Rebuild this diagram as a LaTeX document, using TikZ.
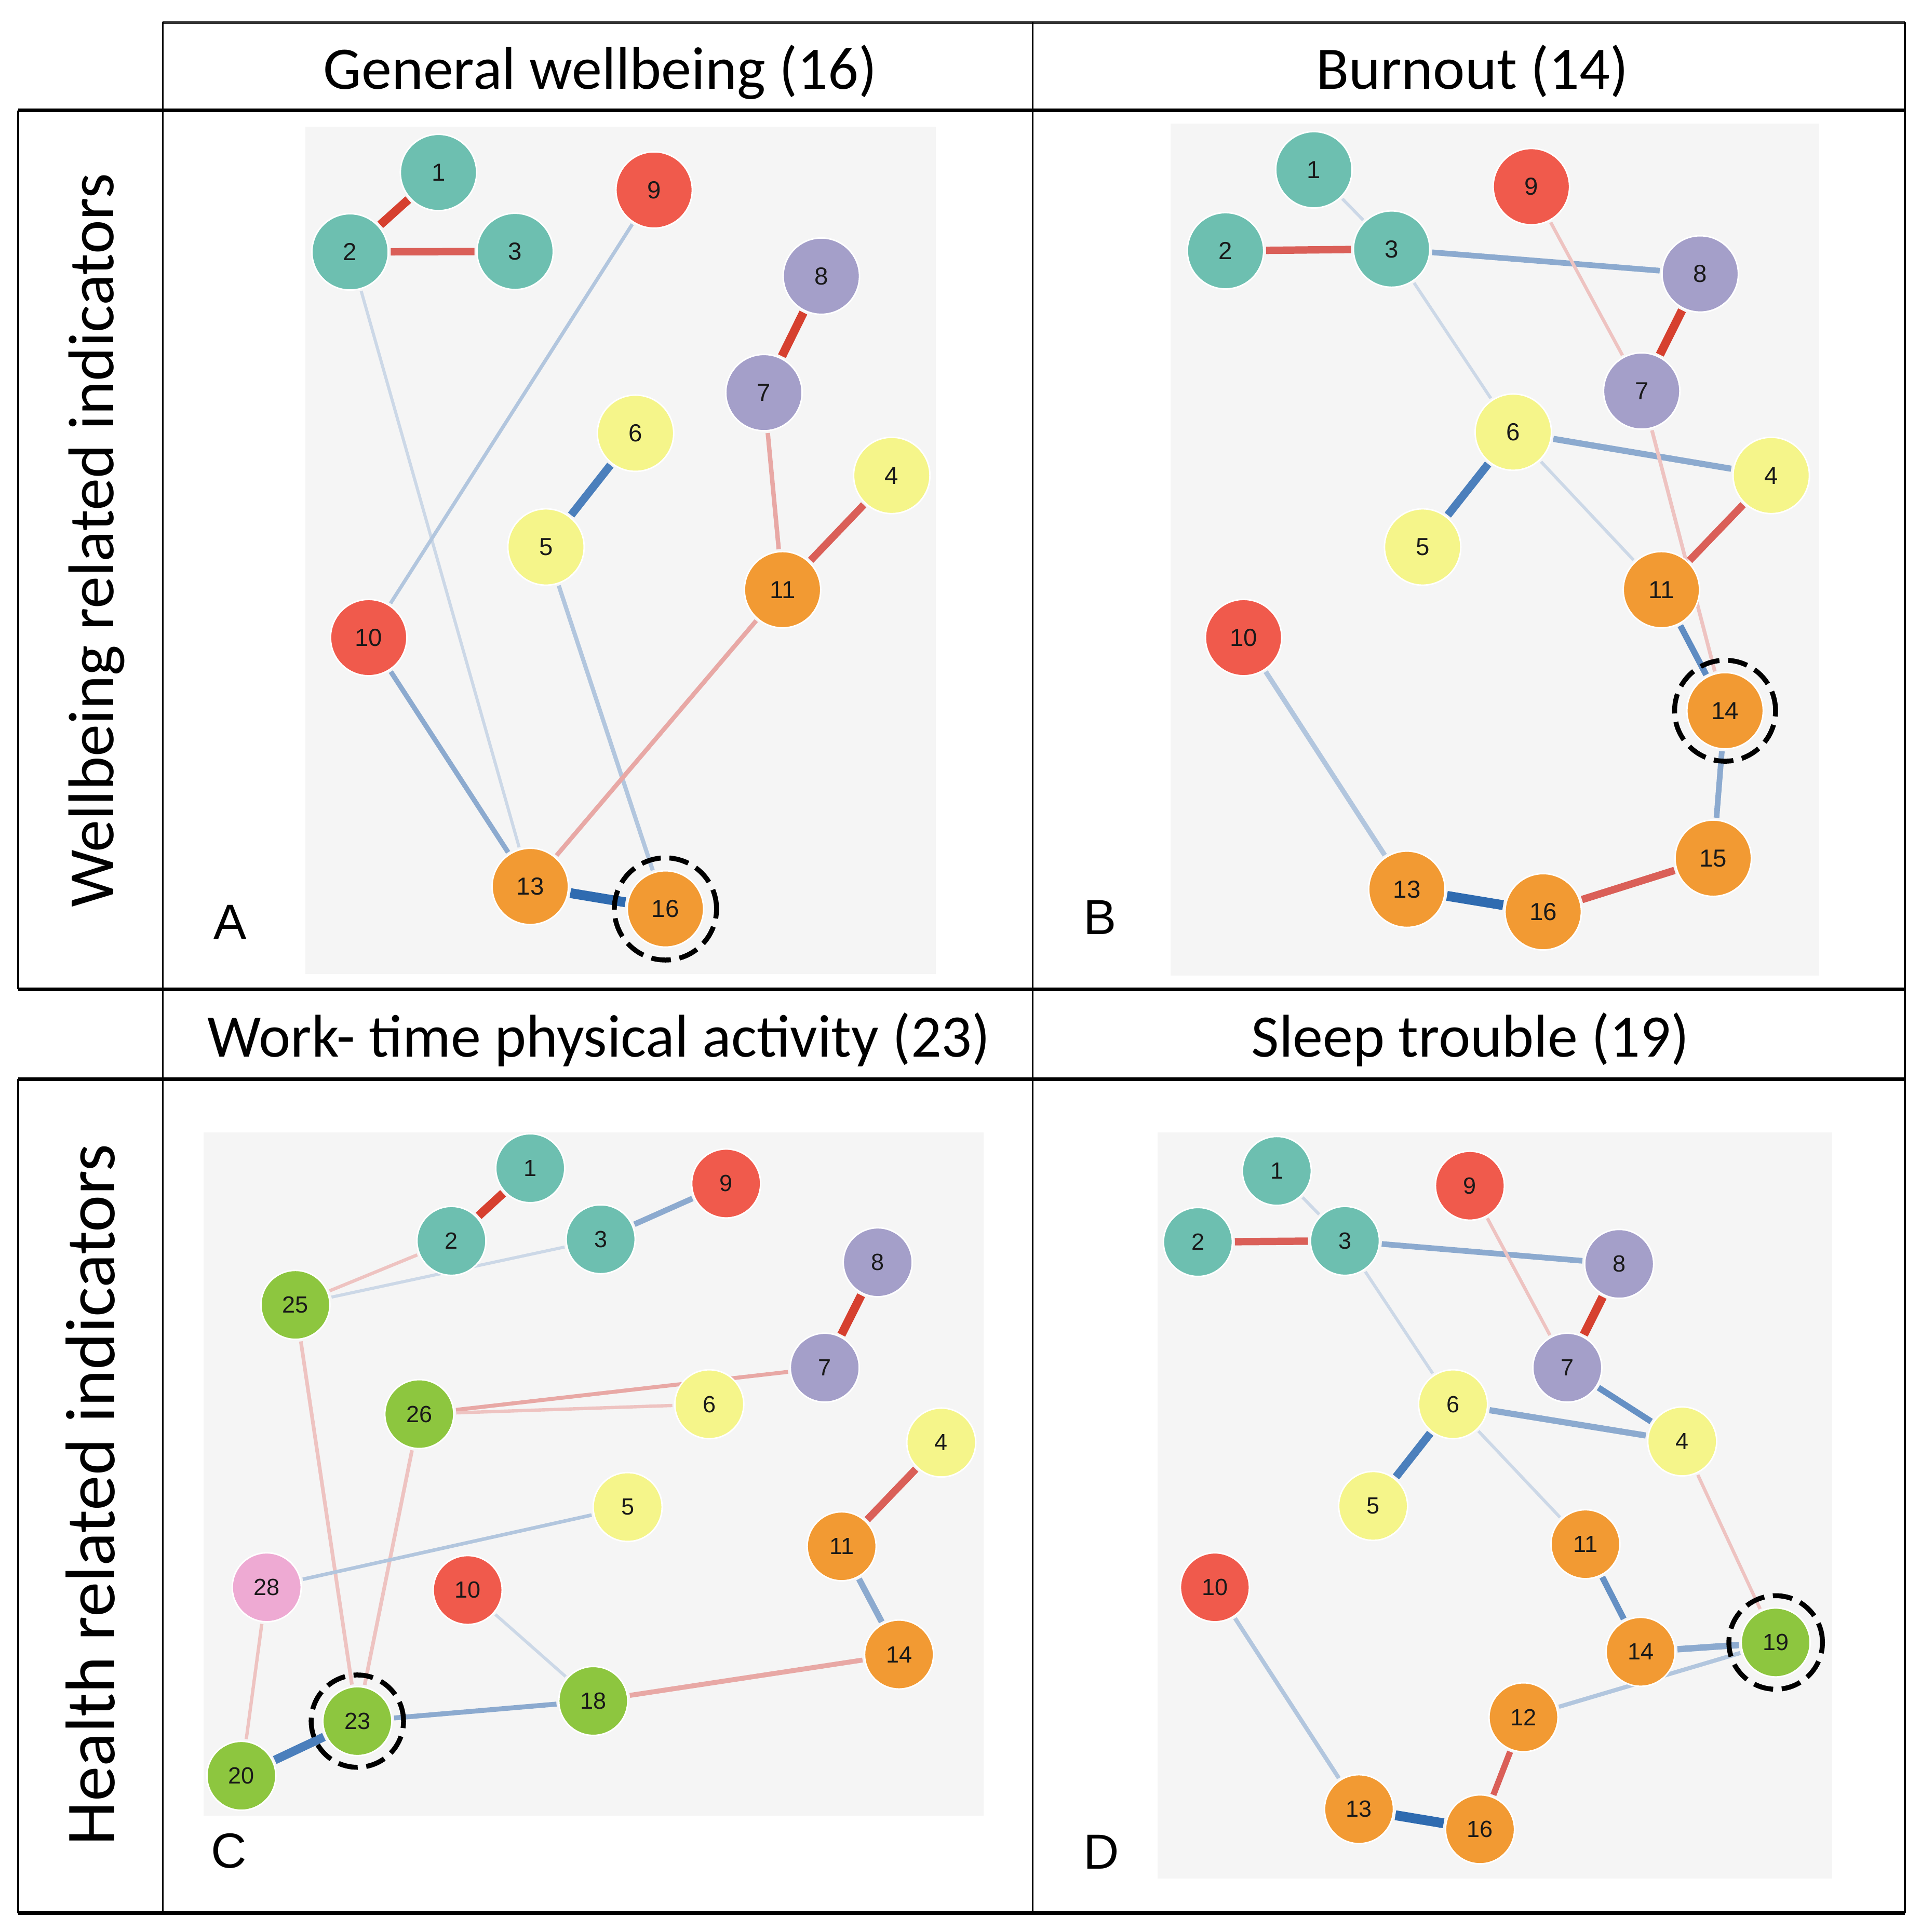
\documentclass[tikz,border=0pt]{standalone}
\usepackage{fontspec}
\setmainfont{Carlito}
\newfontfamily\numfont{Liberation Sans}
\pgfdeclarelayer{bglayer}
\pgfdeclarelayer{edgelayer}
\pgfsetlayers{bglayer,edgelayer,main}
\definecolor{cteal}{HTML}{6DBFB0}
\definecolor{cred}{HTML}{F05A4C}
\definecolor{cpurple}{HTML}{A49FC9}
\definecolor{cyellow}{HTML}{F5F58A}
\definecolor{corange}{HTML}{F29A33}
\definecolor{cgreen}{HTML}{8DC63F}
\definecolor{cpink}{HTML}{EEAAD3}
\definecolor{cbg}{HTML}{F5F5F5}
\definecolor{eA}{HTML}{D6402F}
\definecolor{eB}{HTML}{DA5F58}
\definecolor{eC}{HTML}{E8A8A5}
\definecolor{eD}{HTML}{EEC3C1}
\definecolor{bA}{HTML}{2F6BB0}
\definecolor{bB}{HTML}{4B7FBC}
\definecolor{bC}{HTML}{8CAACF}
\definecolor{bD}{HTML}{B2C6DE}
\definecolor{bE}{HTML}{CCD8E7}
\tikzset{
  nd/.style={circle, inner sep=0pt, outer sep=2pt, draw=white, line width=1.2pt, text=black!90},
  ndL/.style={nd, minimum size=62pt, font=\numfont\fontsize{20}{22}\selectfont},
  ndS/.style={nd, minimum size=56pt, font=\numfont\fontsize{19}{21}\selectfont},
  hl/.style={circle, draw=black, line width=4pt, dash pattern=on 16pt off 7pt, fill=none, inner sep=0pt},
  sr/.style={draw=eA, line width=7pt},
  mr/.style={draw=eB, line width=6pt},
  lr/.style={draw=eC, line width=3.6pt},
  fr/.style={draw=eD, line width=2.7pt},
  sb/.style={draw=bA, line width=8pt},
  mb/.style={draw=bB, line width=6.5pt},
  cb/.style={draw=bC, line width=4.6pt},
  lb/.style={draw=bD, line width=3.4pt},
  fb/.style={draw=bE, line width=2.5pt},
  tline/.style={draw=black, line width=2.8pt},
  vline/.style={draw=black, line width=1.6pt},
  ttl/.style={anchor=base, font=\fontsize{49}{58}\selectfont},
  plab/.style={anchor=base, font=\numfont\fontsize{40}{46}\selectfont},
}
\begin{document}
\begin{tikzpicture}[x=1pt,y=-1pt]
\useasboundingbox (0,0) rectangle (1560,1569.3);
% ---- backgrounds ----
\begin{pgfonlayer}{bglayer}
\fill[white] (0,0) rectangle (1560,1569.3);
\fill[cbg] (248,103) rectangle (760,791);
\fill[cbg] (950.5,100.4) rectangle (1477.5,792.5);
\fill[cbg] (165.4,920) rectangle (798.7,1474.8);
\fill[cbg] (939.9,920) rectangle (1487.8,1525.9);
\end{pgfonlayer}
% ---- table ----
\draw[draw=black!80, line width=2pt] (132.2,18.3) -- (1547,18.3);
\draw[tline] (14.8,89.7) -- (1547,89.7);
\draw[tline] (14.8,803.5) -- (1547,803.5);
\draw[tline] (14.8,876.5) -- (1547,876.5);
\draw[tline] (14.8,1554) -- (1547,1554);
\draw[vline] (132.2,18.3) -- (132.2,1554);
\draw[vline] (838.6,18.3) -- (838.6,1554);
\draw[vline] (1547,18.3) -- (1547,1554);
\draw[vline] (14.8,89.7) -- (14.8,803.5);
\draw[vline] (14.8,876.5) -- (14.8,1554);
% ---- titles ----
\node[ttl] (tA) at (487.4,72.4) {General wellbeing (16)};
\node[ttl] (tB) at (1195.6,72.4) {Burnout (14)};
\node[ttl] (tC) at (486.5,858.3) {Work- time physical activity (23)};
\node[ttl] (tD) at (1194,858.3) {Sleep trouble (19)};
\node[anchor=base, rotate=90, font=\fontsize{52.5}{60}\selectfont] (rW) at (92,439) {Wellbeing related indicators};
\node[anchor=base, rotate=90, font=\fontsize{57}{64}\selectfont] (rH) at (92.8,1214.2) {Health related indicators};
% ---- panel letters ----
\node[plab] (LA) at (187,762.5) {A};
\node[plab] (LB) at (893.3,758.9) {B};
\node[plab] (LC) at (186,1517) {C};
\node[plab] (LD) at (894.2,1517.9) {D};
% ================= Panel A =================
\node[ndL, fill=cteal] (a1) at (356.1,140.1) {1};
\node[ndL, fill=cteal] (a2) at (284.3,204.6) {2};
\node[ndL, fill=cteal] (a3) at (418.3,204.2) {3};
\node[ndL, fill=cred] (a9) at (531.2,154.3) {9};
\node[ndL, fill=cpurple] (a8) at (667.0,224.3) {8};
\node[ndL, fill=cpurple] (a7) at (620.4,318.9) {7};
\node[ndL, fill=cyellow] (a6) at (516.1,351.9) {6};
\node[ndL, fill=cyellow] (a4) at (724.2,386.2) {4};
\node[ndL, fill=cyellow] (a5) at (443.4,444.3) {5};
\node[ndL, fill=corange] (a11) at (635.5,479) {11};
\node[ndL, fill=cred] (a10) at (299.4,517.9) {10};
\node[ndL, fill=corange] (a13) at (430.6,720) {13};
\node[ndL, fill=corange] (a16) at (540.4,738.3) {16};
\node[hl, minimum size=83pt] (a16h) at (a16.center) {};
\begin{pgfonlayer}{edgelayer}
\draw[sr] (a1) -- (a2);
\draw[mr] (a2) -- (a3);
\draw[fb] (a2) -- (a13);
\draw[lb, line width=2.9pt] (a9) -- (a10);
\draw[sr] (a8) -- (a7);
\draw[lr] (a7) -- (a11);
\draw[mr] (a4) -- (a11);
\draw[mb] (a6) -- (a5);
\draw[lb] (a5) -- (a16);
\draw[cb, line width=4pt] (a10) -- (a13);
\draw[lr] (a11) -- (a13);
\draw[sb] (a13) -- (a16);
\end{pgfonlayer}
% ================= Panel B =================
\node[ndL, fill=cteal] (b1) at (1067,137.9) {1};
\node[ndL, fill=cteal] (b2) at (995.2,203.7) {2};
\node[ndL, fill=cteal] (b3) at (1130.1,202.3) {3};
\node[ndL, fill=cred] (b9) at (1243.6,151.6) {9};
\node[ndL, fill=cpurple] (b8) at (1380.7,222.5) {8};
\node[ndL, fill=cpurple] (b7) at (1333.2,317.6) {7};
\node[ndL, fill=cyellow] (b6) at (1228.9,351) {6};
\node[ndL, fill=cyellow] (b4) at (1438.4,386.2) {4};
\node[ndL, fill=cyellow] (b5) at (1155.3,444.3) {5};
\node[ndL, fill=corange] (b11) at (1349.2,479) {11};
\node[ndL, fill=cred] (b10) at (1009.9,517.9) {10};
\node[ndL, fill=corange] (b14) at (1400.9,577.3) {14};
\node[ndL, fill=corange] (b15) at (1391.3,697.1) {15};
\node[ndL, fill=corange] (b13) at (1142.5,722.3) {13};
\node[ndL, fill=corange] (b16) at (1253.2,740.6) {16};
\node[hl, minimum size=82pt] (b14h) at (b14.center) {};
\begin{pgfonlayer}{edgelayer}
\draw[fb] (b1) -- (b3);
\draw[mr] (b2) -- (b3);
\draw[cb] (b3) -- (b8);
\draw[fb] (b3) -- (b6);
\draw[fr] (b9) -- (b7);
\draw[sr] (b8) -- (b7);
\draw[cb, line width=5pt] (b6) -- (b4);
\draw[mb] (b6) -- (b5);
\draw[fb] (b6) -- (b11);
\draw[fr, line width=3pt] (b7) -- (b14);
\draw[mr] (b4) -- (b11);
\draw[cb, draw=bB!70!bC, line width=5pt] (b11) -- (b14);
\draw[cb] (b14) -- (b15);
\draw[lb, line width=4pt] (b10) -- (b13);
\draw[sb] (b13) -- (b16);
\draw[mr] (b16) -- (b15);
\end{pgfonlayer}
% ================= Panel C =================
\node[ndS, fill=cteal] (c1) at (430.6,948.9) {1};
\node[ndS, fill=cred] (c9) at (589.7,961.3) {9};
\node[ndS, fill=cteal] (c2) at (366.6,1007.9) {2};
\node[ndS, fill=cteal] (c3) at (487.8,1006.6) {3};
\node[ndS, fill=cpurple] (c8) at (712.8,1025.3) {8};
\node[ndS, fill=cgreen] (c25) at (239.9,1059.9) {25};
\node[ndS, fill=cpurple] (c7) at (669.8,1110.9) {7};
\node[ndS, fill=cyellow] (c6) at (576,1140.6) {6};
\node[ndS, fill=cgreen] (c26) at (340.5,1148.6) {26};
\node[ndS, fill=cyellow] (c4) at (764.4,1171.7) {4};
\node[ndS, fill=cyellow] (c5) at (509.7,1224.1) {5};
\node[ndS, fill=corange] (c11) at (683.5,1256) {11};
\node[ndS, fill=cpink] (c28) at (216.6,1289.3) {28};
\node[ndS, fill=cred] (c10) at (379.8,1291.5) {10};
\node[ndS, fill=corange] (c14) at (730.1,1343.9) {14};
\node[ndS, fill=cgreen] (c18) at (481.8,1381.6) {18};
\node[ndS, fill=cgreen] (c23) at (290.2,1398) {23};
\node[ndS, fill=cgreen] (c20) at (196,1442.4) {20};
\node[hl, minimum size=75pt] (c23h) at (c23.center) {};
\begin{pgfonlayer}{edgelayer}
\draw[sr] (c1) -- (c2);
\draw[cb] (c3) -- (c9);
\draw[fr] (c25) -- (c2);
\draw[fb] (c25) -- (c3);
\draw[sr] (c8) -- (c7);
\draw[lr, line width=3.2pt] (c26) -- (c7);
\draw[fr] (c26) -- (c6);
\draw[fr, line width=3pt] (c25) -- (c23);
\draw[fr, line width=3pt] (c26) -- (c23);
\draw[mr] (c4) -- (c11);
\draw[lb, line width=2.9pt] (c28) -- (c5);
\draw[cb, line width=5pt] (c11) -- (c14);
\draw[fr] (c28) -- (c20);
\draw[fb] (c10) -- (c18);
\draw[lr, line width=4pt] (c18) -- (c14);
\draw[cb, line width=4pt] (c23) -- (c18);
\draw[mb, line width=7pt] (c20) -- (c23);
\end{pgfonlayer}
% ================= Panel D =================
\node[ndS, fill=cteal] (d1) at (1036.9,951.1) {1};
\node[ndS, fill=cred] (d9) at (1193.7,963.1) {9};
\node[ndS, fill=cteal] (d2) at (972.8,1008.8) {2};
\node[ndS, fill=cteal] (d3) at (1092.2,1007.9) {3};
\node[ndS, fill=cpurple] (d8) at (1314.9,1026.6) {8};
\node[ndS, fill=cpurple] (d7) at (1272.8,1110.9) {7};
\node[ndS, fill=cyellow] (d6) at (1180,1140.6) {6};
\node[ndS, fill=cyellow] (d4) at (1366.1,1170.8) {4};
\node[ndS, fill=cyellow] (d5) at (1115.1,1223.2) {5};
\node[ndS, fill=corange] (d11) at (1287.5,1254.3) {11};
\node[ndS, fill=cred] (d10) at (986.6,1289.3) {10};
\node[ndS, fill=cgreen] (d19) at (1442,1334.1) {19};
\node[ndS, fill=corange] (d14) at (1332.3,1341.7) {14};
\node[ndS, fill=corange] (d12) at (1237.2,1394.9) {12};
\node[ndS, fill=corange] (d13) at (1103.6,1469.5) {13};
\node[ndS, fill=corange] (d16) at (1201.9,1485.9) {16};
\node[hl, minimum size=76pt] (d19h) at (d19.center) {};
\begin{pgfonlayer}{edgelayer}
\draw[fb] (d1) -- (d3);
\draw[mr] (d2) -- (d3);
\draw[cb] (d3) -- (d8);
\draw[fb] (d3) -- (d6);
\draw[fr] (d9) -- (d7);
\draw[sr] (d8) -- (d7);
\draw[cb, draw=bB!60!bC, line width=5pt] (d7) -- (d4);
\draw[cb, line width=5pt] (d6) -- (d4);
\draw[mb] (d6) -- (d5);
\draw[fb] (d6) -- (d11);
\draw[fr] (d4) -- (d19);
\draw[cb, draw=bB!60!bC, line width=5pt] (d11) -- (d14);
\draw[cb, line width=5.2pt] (d14) -- (d19);
\draw[lb] (d12) -- (d19);
\draw[mr, line width=5pt] (d12) -- (d16);
\draw[lb] (d10) -- (d13);
\draw[sb] (d13) -- (d16);
\end{pgfonlayer}
\end{tikzpicture}
\end{document}
